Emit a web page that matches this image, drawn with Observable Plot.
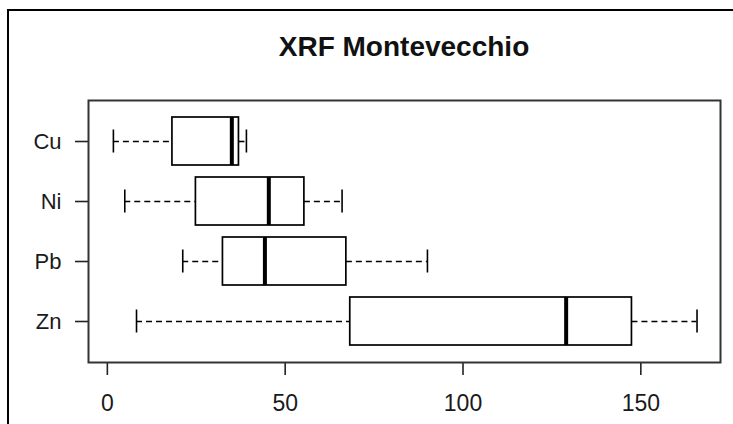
<!DOCTYPE html>
<html>
<head>
<meta charset="utf-8">
<script src="https://cdn.jsdelivr.net/npm/d3@7"></script>
<script src="https://cdn.jsdelivr.net/npm/@observablehq/plot@0.6"></script>
<style>
  html, body { margin: 0; padding: 0; background: #fff; }
  #wrap { position: relative; width: 733px; height: 424px; overflow: hidden; font-family: "Liberation Sans", Arial, sans-serif; }
  #outer { position: absolute; left: 7px; top: 9px; right: -10px; bottom: -10px; border-left: 2px solid #000; border-top: 2px solid #000; }
  #title { position: absolute; left: 88px; width: 632px; top: 31px; margin: 0; text-align: center; font-size: 28px; font-weight: bold; color: #111; line-height: 32px; }
  #chart { position: absolute; left: 0; top: 0; }
</style>
</head>
<body>
<div id="wrap">
  <div id="outer"></div>
  <div id="chart"></div>
  <div id="title">XRF Montevecchio</div>
</div>
<script>
const names   = ["Cu", "Ni", "Pb", "Zn"];
const mins    = [1.7, 4.9, 21.2, 8.2];
const q1s     = [18.3, 24.9, 32.5, 68.3];
const medians = [35.0, 45.4, 44.3, 129.0];
const q3s     = [37.0, 55.4, 67.2, 147.5];
const maxs    = [39.1, 66.0, 90.0, 165.8];
const xTicks  = [0, 50, 100, 150];

const data = names.map((n, i) => ({name: n, min: mins[i], q1: q1s[i], med: medians[i], q3: q3s[i], max: maxs[i]}));

const chart = Plot.plot({
  width: 733,
  height: 424,
  marginLeft: 88,
  marginRight: 13,
  marginTop: 100,
  marginBottom: 62,
  style: {fontFamily: "'Liberation Sans', Arial, sans-serif", background: "transparent", color: "#1a1a1a"},
  x: {domain: [-5.3, 172.4], ticks: xTicks, tickFormat: d => String(d)},
  y: {domain: names, paddingInner: 0.2, paddingOuter: 0.283},
  marks: [
    Plot.axisX({ticks: xTicks, tickSize: 13, tickPadding: 19, fontSize: 23, label: null, stroke: "#222", strokeWidth: 1.6}),
    Plot.axisY({tickSize: 13, tickPadding: 14, fontSize: 22, label: null, stroke: "#222", strokeWidth: 1.6}),
    Plot.ruleY(data, {y: "name", x1: "min", x2: "q1", stroke: "#000", strokeWidth: 1.6, strokeDasharray: "6,4"}),
    Plot.ruleY(data, {y: "name", x1: "q3", x2: "max", stroke: "#000", strokeWidth: 1.6, strokeDasharray: "6,4"}),
    Plot.tickX(data, {y: "name", x: "min", stroke: "#000", strokeWidth: 1.6, insetTop: 12.5, insetBottom: 12.5}),
    Plot.tickX(data, {y: "name", x: "max", stroke: "#000", strokeWidth: 1.6, insetTop: 12.5, insetBottom: 12.5}),
    Plot.barX(data, {y: "name", x1: "q1", x2: "q3", fill: "#fff", stroke: "#000", strokeWidth: 1.7}),
    Plot.tickX(data, {y: "name", x: "med", stroke: "#000", strokeWidth: 4}),
    Plot.frame({stroke: "#333", strokeWidth: 2})
  ]
});
document.getElementById("chart").appendChild(chart);
</script>
</body>
</html>
